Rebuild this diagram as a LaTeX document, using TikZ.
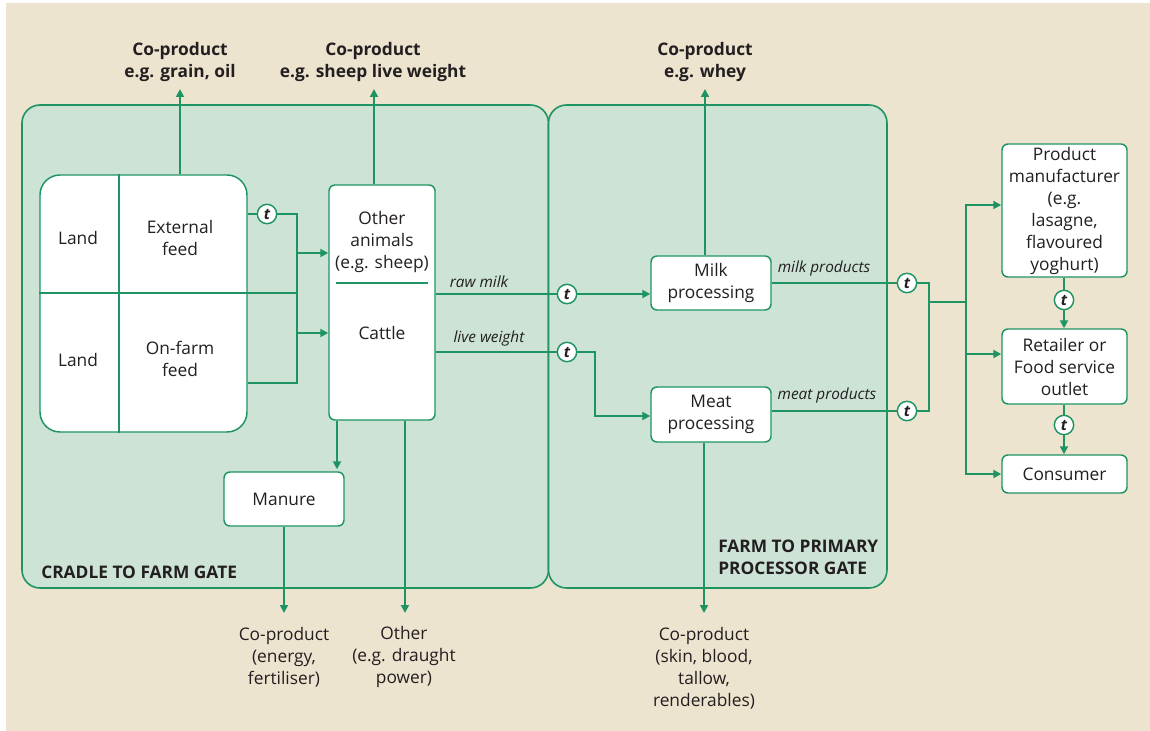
\documentclass[tikz,border=0pt]{standalone}
\usepackage{fontspec}
\setmainfont{Open Sans}
\usetikzlibrary{arrows.meta,calc}
\definecolor{gr}{HTML}{1E9462}
\definecolor{panelc}{HTML}{CCE3D5}
\definecolor{beigec}{HTML}{EDE4D0}
\definecolor{txt}{HTML}{231F20}
\newcommand\msz{\fontsize{13}{16.5}\selectfont}
\begin{document}
\begin{tikzpicture}[x=0.75pt,y=-0.75pt,
  panelbox/.style={draw=gr,line width=1.2pt,fill=panelc,rounded corners=13.5pt},
  box/.style={draw=gr,line width=1.1pt,fill=white,rounded corners=4.5pt,align=center,inner sep=0pt,text=txt,font=\msz},
  lbl/.style={align=center,text=txt,inner sep=0pt,font=\msz},
  blbl/.style={align=center,text=txt,inner sep=0pt,font=\msz\bfseries},
  slbl/.style={align=left,text=txt,inner sep=0pt,font=\msz\bfseries},
  ilbl/.style={text=txt,inner sep=0pt,font=\fontsize{11.5}{13}\selectfont\itshape},
  tc/.style={circle,draw=gr,fill=white,line width=1.1pt,minimum size=14.5pt,inner sep=0pt,font=\fontsize{11.5}{13}\selectfont\bfseries\itshape,text=txt},
  ln/.style={draw=gr,line width=1.4pt},
  arr/.style={ln,-{Triangle[length=6pt,width=6pt]}},
]
\path[fill=white] (0,0) rectangle (1150,731);
\path[fill=beigec] (6,3) rectangle (1150,731);
\useasboundingbox (0,0) rectangle (1150,731);

% panels
\path[panelbox] (22,105) rectangle (548.5,588);
\path[panelbox] (548.5,105) rectangle (887,588);
\node[slbl,anchor=west] (sec1) at (41,572) {CRADLE TO FARM GATE};
\node[slbl,anchor=west] (sec2) at (718,557.5) {FARM TO PRIMARY\\PROCESSOR GATE};

% land / feed block
\node[box,rounded corners=15pt,minimum width=155.25pt,minimum height=192.75pt] (land) at (143.5,303.5) {};
\draw[ln,line width=1.1pt] (land.north -| 119,0) -- (land.south -| 119,0);
\node[lbl] (land1) at (78,238) {Land};
\node[lbl] (land2) at (78,360) {Land};
\node[lbl] (ext) at (180,238) {External\\feed};
\node[lbl] (onf) at (180,359) {On-farm\\feed};

% animals
\node[box,minimum width=79.5pt,minimum height=176.25pt] (anim) at (382,302.5) {};
\node[lbl] (oth) at (382,242) {Other\\animals\\(e.g. sheep)};
\draw[ln,line width=1.1pt] (336,283) -- (428,283);
\node[lbl] (cat) at (382,333) {Cattle};

% manure
\node[box,minimum width=90pt,minimum height=40.5pt] (man) at (284,499) {Manure};

% processing
\node[box,minimum width=90pt,minimum height=40.5pt] (milk) at (711,283) {Milk\\processing};
\node[box,minimum width=90pt,minimum height=41.25pt] (meat) at (711,414.5) {Meat\\processing};

% right boxes
\node[box,minimum width=93.75pt,minimum height=99.75pt] (pm) at (1064.5,210.5) {Product\\manufacturer\\(e.g.\\lasagne,\\flavoured\\yoghurt)};
\node[box,minimum width=93.75pt,minimum height=56.25pt] (ret) at (1064.5,366.5) {Retailer or\\Food service\\outlet};
\node[box,minimum width=93.75pt,minimum height=28.5pt] (con) at (1064.5,474) {Consumer};

% co-product labels
\node[blbl] (cp1) at (180,62) {Co-product\\e.g. grain, oil};
\node[blbl] (cp2) at (373,62) {Co-product\\e.g. sheep live weight};
\node[blbl] (cp3) at (705,62) {Co-product\\e.g. whey};
\node[lbl] (cp4) at (284,657) {Co-product\\(energy,\\fertiliser)};
\node[lbl] (oth2) at (404,657) {Other\\(e.g. draught\\power)};
\node[lbl] (cp5) at (704,668) {Co-product\\(skin, blood,\\tallow,\\renderables)};
\coordinate (tip1) at (180,89);
\coordinate (tip2) at (374,89);
\coordinate (tip3) at (705,89);
\coordinate (tip4) at (284,613);
\coordinate (tip5) at (405,613);
\coordinate (tip6) at (704,613);

% t circles
\node[tc] (t1) at (267,214) {t};
\node[tc] (t2) at (567,294) {t};
\node[tc] (t3) at (567,352) {t};
\node[tc] (t4) at (907,283) {t};
\node[tc] (t5) at (907,411) {t};
\node[tc] (t6) at (1064,300) {t};
\node[tc] (t7) at (1064,425) {t};

% flow labels
\node[ilbl] (lrm) at (479,282) {raw milk};
\node[ilbl] (llw) at (489,339) {live weight};
\node[ilbl] (lmp) at (824,269) {milk products};
\node[ilbl] (lmt) at (827,396) {meat products};

% connectors: feed to animals
\coordinate (bus) at (297,293);
\draw[ln] (land.east |- t1) -- (t1);
\draw[ln] (t1) -| (bus);
\draw[ln] (land.east |- 0,383) -| (bus);
\draw[ln] (land.west |- bus) -- (bus);
\draw[arr] (bus |- 0,253) -- (anim.west |- 0,253);
\draw[arr] (bus |- 0,333) -- (anim.west |- 0,333);

% co-products up
\draw[arr] (land.north -| tip1) -- (tip1);
\draw[arr] (anim.north -| tip2) -- (tip2);
\draw[arr] (milk.north -| tip3) -- (tip3);

% downwards
\draw[arr] (anim.south -| 337,0) -- ([yshift=1.5pt]man.north -| 337,0);
\draw[arr] (anim.south -| tip5) -- (tip5);
\draw[arr] (man.south) -- (tip4);
\draw[arr] (meat.south -| tip6) -- (tip6);

% raw milk / live weight
\draw[ln] (anim.east |- t2) -- (t2);
\draw[arr] (t2) -- (milk.west |- t2);
\draw[ln] (anim.east |- t3) -- (t3);
\coordinate (lwk) at (595,416);
\draw[arr] (t3) -| (lwk) -- (meat.west |- lwk);

% products to distribution
\draw[ln] (milk.east |- t4) -- (t4);
\draw[ln] (meat.east |- t5) -- (t5);
\coordinate (jn) at (929,302);
\coordinate (rb) at (966,302);
\draw[ln] (t4) -| (jn);
\draw[ln] (t5) -| (jn);
\draw[ln] (jn) -- (rb);
\draw[arr] (rb) |- (pm.west |- 0,205);
\draw[arr] (rb) |- (ret.west |- 0,354);
\draw[arr] (rb) |- (con.west);

% chain
\draw[ln] (pm.south -| t6) -- (t6);
\draw[arr] (t6) -- (ret.north -| t6);
\draw[ln] (ret.south -| t7) -- (t7);
\draw[arr] (t7) -- (con.north -| t7);
\end{tikzpicture}
\end{document}
